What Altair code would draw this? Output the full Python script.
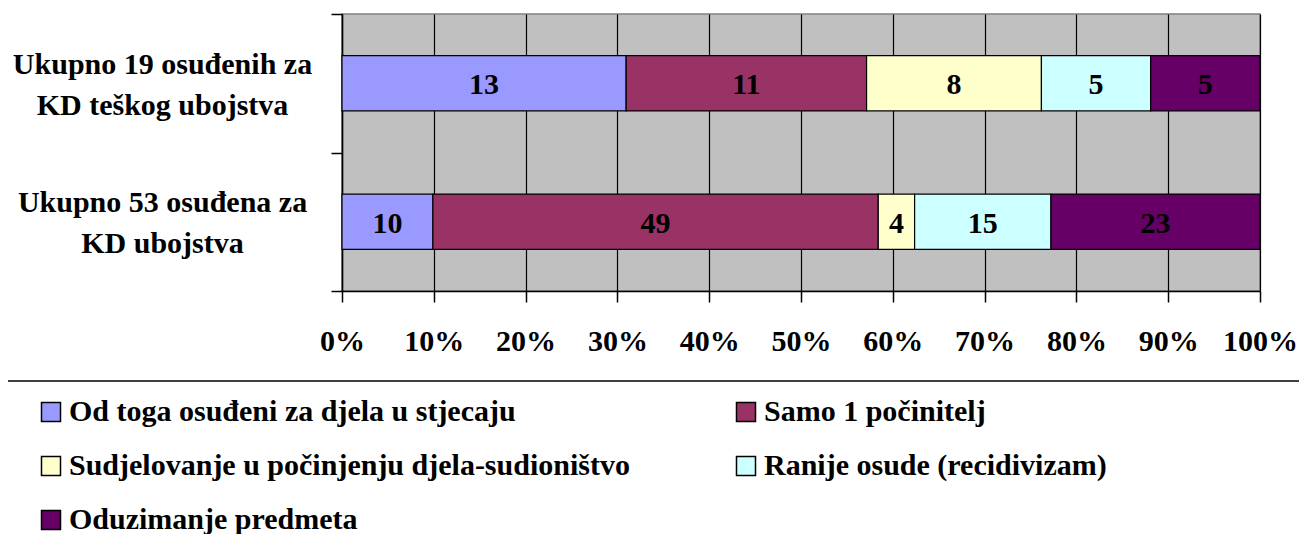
import altair as alt
import pandas as pd

categories = ["Ukupno 19 osuđenih za|KD teškog ubojstva", "Ukupno 53 osuđena za|KD ubojstva"]
series = [
    "Od toga osuđeni za djela u stjecaju",
    "Samo 1 počinitelj",
    "Sudjelovanje u počinjenju djela-sudioništvo",
    "Ranije osude (recidivizam)",
    "Oduzimanje predmeta",
]
colors = ["#9999FF", "#993366", "#FFFFCC", "#CCFFFF", "#660066"]
values_cat1 = [13, 11, 8, 5, 5]
values_cat2 = [10, 49, 4, 15, 23]
x_ticks = [0, 0.1, 0.2, 0.3, 0.4, 0.5, 0.6, 0.7, 0.8, 0.9, 1.0]

rows = []
for cat, vals in zip(categories, [values_cat1, values_cat2]):
    for i, (s, v) in enumerate(zip(series, vals)):
        rows.append({"cat": cat, "series": s, "value": v, "ord": i})
df = pd.DataFrame(rows)

FONT = "Liberation Serif"

base = alt.Chart(df).transform_stack(
    stack="value", groupby=["cat"], sort=[alt.SortField("ord", order="ascending")],
    as_=["x0", "x1"], offset="normalize"
).transform_calculate(mid="(datum.x0 + datum.x1) / 2")

yenc = alt.Y(
    "cat:N", sort=categories,
    scale=alt.Scale(paddingInner=0, paddingOuter=0),
    axis=alt.Axis(
        title=None, labelExpr="split(datum.label, '|')", labelAlign="center",
        labelBaseline="middle", labelPadding=169, labelLimit=500, tickSize=11,
        tickBand="extent", domainColor="black", tickColor="black", grid=False,
        labelFont=FONT, labelFontSize=30, labelFontWeight="bold", labelColor="black",
        labelLineHeight=41, labelOffset=-19, domainWidth=1.5, tickWidth=1.5,
    ),
)

bars = base.mark_bar(height={"band": 0.4}, stroke="black", strokeWidth=1.2).encode(
    x=alt.X(
        "x0:Q", scale=alt.Scale(domain=[0, 1], nice=False),
        axis=alt.Axis(
            values=x_ticks, format=".0%", title=None, tickSize=11, labelPadding=24,
            grid=True, gridColor="black", gridWidth=1.2, domainColor="black",
            tickColor="black", domainWidth=1.5, tickWidth=1.5,
            labelFont=FONT, labelFontSize=30, labelFontWeight="bold",
            labelColor="black", labelFlush=False, labelOverlap=False,
        ),
    ),
    x2="x1:Q",
    y=yenc,
    color=alt.Color(
        "series:N", scale=alt.Scale(domain=series, range=colors),
        legend=alt.Legend(
            orient="none", legendX=-306, legendY=383, columns=2, columnPadding=101,
            direction="horizontal",
            rowPadding=24, symbolType="square", symbolSize=361,
            symbolStrokeColor="black", symbolStrokeWidth=1.5, title=None,
            labelFont=FONT, labelFontSize=30, labelFontWeight="bold",
            labelColor="black", labelOffset=3, labelLimit=900, padding=0,
        ),
    ),
)

labels = base.mark_text(font=FONT, fontSize=30, fontWeight="bold", color="black",
                        baseline="middle", align="center", dy=2).encode(
    x="mid:Q",
    y=alt.Y("cat:N", sort=categories),
    text="value:Q",
)

sep = alt.Chart(pd.DataFrame({"a": [0]})).mark_rule(color="black", strokeWidth=1.5).encode(
    x=alt.value(-334), x2=alt.value(957), y=alt.value(367)
)

chart = alt.layer(bars, labels, sep).properties(
    width=918, height=277,
    autosize=alt.AutoSizeParams(type="none"),
    padding={"left": 334, "top": 6, "right": 39, "bottom": 243},
).configure(font=FONT).configure_view(fill="#C0C0C0", stroke="#808080", strokeWidth=1.5)

chart.save("out.html", embed_options={"renderer": "svg", "actions": False})
